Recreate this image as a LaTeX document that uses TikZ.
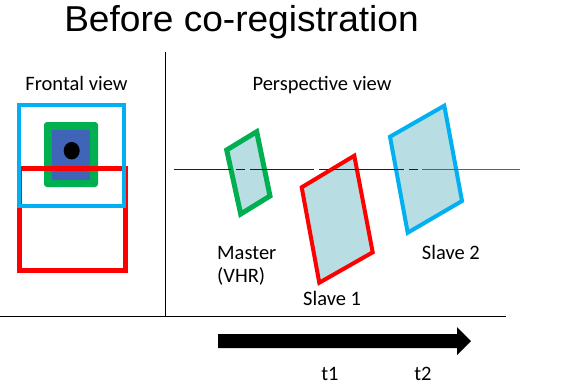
\documentclass[tikz,border=0pt]{standalone}
\usepackage{fontspec}
\usetikzlibrary{shapes.geometric}
\setmainfont{Carlito}
\newfontfamily\titlefont{Liberation Sans}
\definecolor{cgreen}{RGB}{0,176,80}
\definecolor{cred}{RGB}{255,0,0}
\definecolor{csky}{RGB}{0,176,240}
\definecolor{cblue}{RGB}{63,100,184}
\definecolor{cfill}{RGB}{184,222,227}
\definecolor{cline}{RGB}{30,30,30}
\tikzset{
  lbl/.style={font=\fontsize{20.5}{24}\selectfont, inner sep=0pt, anchor=base west},
  clbl/.style={font=\fontsize{20.5}{24}\selectfont, inner sep=0pt, anchor=base},
  quad/.style={fill=cfill, line join=miter},
  axis/.style={draw=cline, line width=1.2pt},
  hidden/.style={draw=cline, line width=1.4pt, dash pattern=on 9pt off 5pt},
}
\begin{document}
\begin{tikzpicture}[x=1pt,y=-1pt]
\useasboundingbox (0,0) rectangle (564,384);
% title
\node[font=\titlefont\fontsize{36}{40}\selectfont, inner sep=0pt, anchor=base, xscale=1.03] (title) at (241.5,31) {Before co-registration};
% dividers
\coordinate (vt) at (165,52);
\coordinate (vb) at (165,316);
\coordinate (hl) at (0,316);
\coordinate (hr) at (506,316);
\draw[line width=1pt] (vt) -- (vb);
\draw[line width=1pt] (hl) -- (hr);
% frontal view
\node[clbl] (fv) at (76.5,90.7) {Frontal view};
\node[fill=cgreen, rounded corners=3pt, minimum width=54pt, minimum height=65pt, inner sep=0pt] (gbox) at (71,154.5) {};
\node[fill=cblue, minimum width=38pt, minimum height=50pt, inner sep=0pt] (bbox) at (71,154.5) {};
\node[fill=black, ellipse, minimum width=16pt, minimum height=17.5pt, inner sep=0pt] (dot) at (71.7,150.7) {};
\draw[cred, line width=5pt] (19.5,168) rectangle (125.8,270.8);
\draw[csky, line width=4pt] (18.7,104.7) rectangle (124,206.3);
% perspective view
\node[clbl] (pv) at (322,90.7) {Perspective view};
\draw[quad, draw=cgreen, line width=5pt] (226.7,150) -- (256.7,131.7) -- (270,196) -- (240.7,214) -- cycle;
\draw[quad, draw=cred, line width=4pt] (301.7,187.3) -- (354.3,155.7) -- (372.7,252.3) -- (319.3,282.7) -- cycle;
\draw[quad, draw=csky, line width=4pt] (390,136.7) -- (444.3,105.7) -- (462,201) -- (407.7,232.7) -- cycle;
% axis line through the planes
\coordinate (a0) at (174,169.3);
\coordinate (a1) at (222,169.3);
\coordinate (a2) at (253,169.3);
\coordinate (a3) at (305,169.3);
\coordinate (a4) at (340,169.3);
\coordinate (a5) at (395,169.3);
\coordinate (a6) at (422,169.3);
\coordinate (a7) at (520,169.3);
\draw[axis] (a0) -- (a1);
\draw[hidden] (a1) -- (a2);
\draw[axis] (a2) -- (a3);
\draw[hidden] (a3) -- (a4);
\draw[axis] (a4) -- (a5);
\draw[hidden] (a5) -- (a6);
\draw[axis, draw=cline!70] (a6) -- (a7);
% labels
\node[lbl] (master) at (217,259.3) {Master};
\node[lbl] (vhr) at (217,282.7) {(VHR)};
\node[lbl] (s1) at (303,305) {Slave 1};
\node[lbl] (s2) at (421.7,259.3) {Slave 2};
% time arrow
\fill[black] (218,334) -- (457,334) -- (457,327) -- (471,341) -- (457,355) -- (457,348) -- (218,348) -- cycle;
\node[clbl] (t1) at (330,380) {t1};
\node[clbl] (t2) at (423,380) {t2};
\end{tikzpicture}
\end{document}
